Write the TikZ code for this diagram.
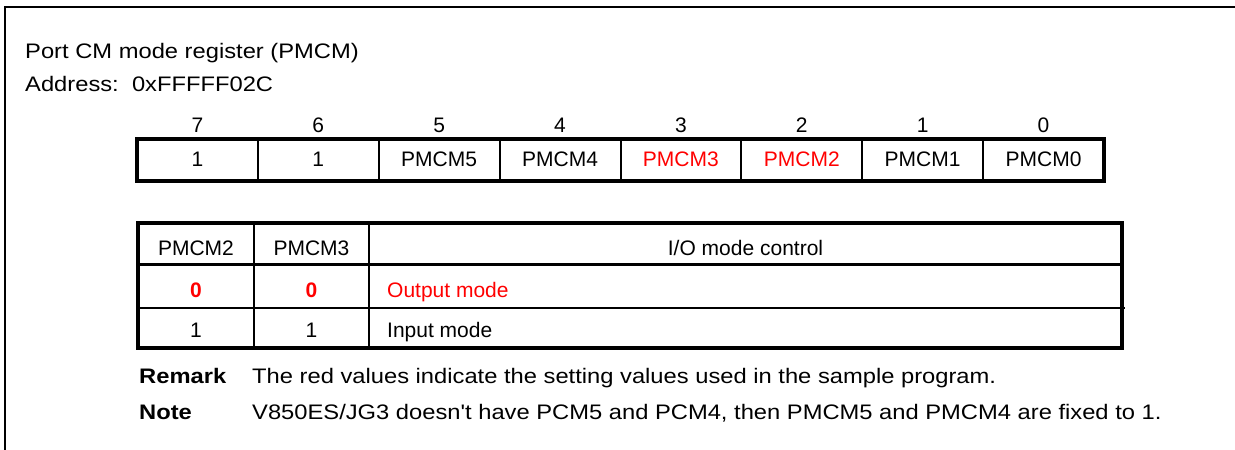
\documentclass[tikz,border=0pt]{standalone}
\usepackage{fontspec}
\setmainfont{Liberation Sans}
\newfontfamily\widefont{Liberation Sans}[FakeStretch=1.13]

\tikzset{
  txt/.style={anchor=base west, inner sep=0pt, font=\fontsize{21}{25}\selectfont},
  wide/.style={font=\fontsize{21}{25}\selectfont\widefont},
  widebf/.style={font=\fontsize{21}{25}\selectfont\widefont\bfseries},
  cell/.style={anchor=base, inner sep=0pt, font=\fontsize{21}{25}\selectfont},
  setval/.style={text=red}
}

\begin{document}
\begin{tikzpicture}[x=1pt, y=-1pt]
  \useasboundingbox (0,0) rectangle (1235,450);
  \draw[line width=2pt] (1235,7) -- (5,7) -- (5,450);

  \node[txt, wide] (title) at (25,58) {Port CM mode register (PMCM)};
  \node[txt, wide] (addr) at (25,91) {Address:\ \ 0xFFFFF02C};

  % Register
  \foreach \n/\t/\c [count=\i from 0] in {7/1/black, 6/1/black, 5/PMCM5/black,
      4/PMCM4/black, 3/PMCM3/red, 2/PMCM2/red, 1/PMCM1/black, 0/PMCM0/black}
  {
    \node[cell] (num\n) at ({197.4+120.875*\i},132) {\n};
    \node[cell, text=\c] (bit\n) at ({197.4+120.875*\i},166) {\t};
  }
  \foreach \i in {1,...,7}
    \draw[line width=2pt] ({137+120.875*\i},139) -- +(0,42);
  \draw[line width=4pt] (137,139) rectangle (1104,181);

  % Tabelle
  \draw[line width=2pt] (254,223) -- (254,348) (369,223) -- (369,348)
                        (138,308) -- (1125,308);
  \draw[line width=3pt] (138,264) -- (1122,264);
  \draw[line width=3.5pt] (138,223) rectangle (1122,348);

  \node[cell] (hd2) at (196,255) {PMCM2};
  \node[cell] (hd3) at (311.5,255) {PMCM3};
  \node[cell] (hdio) at (745.5,255) {I/O mode control};

  \node[cell, setval, font=\fontsize{21}{25}\selectfont\bfseries] (out2) at (196,297) {0};
  \node[cell, setval, font=\fontsize{21}{25}\selectfont\bfseries] (out3) at (311.5,297) {0};
  \node[txt, setval] (outm) at (387,297) {Output mode};

  \node[cell] (in2) at (196,337) {1};
  \node[cell] (in3) at (311.5,337) {1};
  \node[txt] (inm) at (387,337) {Input mode};

  \node[txt, widebf] (remark) at (139,383) {Remark};
  \node[txt, wide] (remtxt) at (252,383) {The red values indicate the setting values used in the sample program.};
  \node[txt, widebf] (note) at (139,419) {Note};
  \node[txt, wide] (notetxt) at (252,419) {V850ES/JG3 doesn't have PCM5 and PCM4, then PMCM5 and PMCM4 are fixed to 1.};
\end{tikzpicture}
\end{document}
